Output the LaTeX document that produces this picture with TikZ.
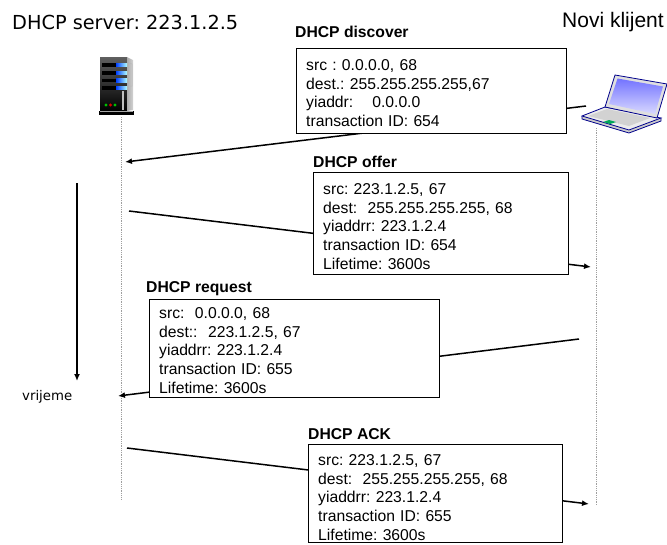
\documentclass[tikz,border=0pt]{standalone}
\usepackage{fontspec}
\setmainfont{Liberation Sans}
\newfontfamily\comicfont{DejaVu Sans}
\usetikzlibrary{arrows.meta}
\begin{document}
\frenchspacing
\begin{tikzpicture}[x=1pt,y=-1pt,
  msgline/.style={line width=1.5pt, -{Latex[length=7pt,width=6pt]}},
  msgbox/.style={draw, line width=0.9pt, fill=white, inner sep=0pt, anchor=north west},
  msgtext/.style={anchor=base west, inner sep=0pt, text width=245pt, align=left,
     font=\fontsize{15.7}{18.7}\selectfont\frenchspacing},
  msglabel/.style={anchor=base west, inner sep=0pt, font=\fontsize{15.7}{18}\selectfont\bfseries},
  lifeline/.style={gray!75, line width=0.9pt, dash pattern=on 0.9pt off 0.9pt},
  ledg/.style={fill=green!75!black},
  ledr/.style={fill=red!85!black}]
\useasboundingbox (0,0) rectangle (667,544);

% titles
\node[anchor=base west, inner sep=0pt] (title) at (12,29.5)
  {\comicfont\fontsize{19.3}{22}\selectfont DHCP server: 223.1.2.5};
\node[anchor=base west, inner sep=0pt] (client) at (562,27)
  {\fontsize{21}{24}\selectfont Novi klijent};

% lifelines
\coordinate (srvtop) at (121,117);
\coordinate (srvbot) at (121,500);
\coordinate (clitop) at (596,128);
\coordinate (clibot) at (596,505);
\draw[lifeline] (srvtop) -- (srvbot);
\draw[lifeline] (clitop) -- (clibot);

% time arrow
\coordinate (tstart) at (77,183);
\coordinate (tend) at (77,381);
\draw[msgline] (tstart) -- (tend);
\node[anchor=base west, inner sep=0pt] (vrijeme) at (22,400)
  {\comicfont\fontsize{13.3}{15}\selectfont vrijeme};

% server icon
\shade[top color=gray!75!black, bottom color=black] (100,57) rectangle (127,111);
\shade[left color=gray!65, right color=gray!35] (127,57) -- (133,60) -- (133,110) -- (127,111) -- cycle;
\draw[gray!55, line width=0.5pt] (129,63) -- (132,64) -- (132,86) -- (129,86) -- cycle;
\foreach \yy in {65,73,80.5,88}{
  \fill[black] (102,\yy-1.6) rectangle (127,\yy+1.6);
  \shade[left color=blue!75!cyan, right color=cyan!30!white] (116,\yy-1.6) rectangle (127,\yy+1.6);
}
\fill[gray!50] (122,91) rectangle (123.6,110);
\fill[ledg] (106,105) circle (1.7);
\fill[ledr] (110.5,105) circle (1.7);
\fill[ledg] (115,105) circle (1.7);
\fill[black] (99,111) rectangle (134,115);
\draw[gray!70, line width=0.5pt] (100,111.5) -- (133,111.5);

% laptop icon
\fill[gray!40] (582,116) -- (582,119) -- (629,133) -- (661,121) -- (661,118) -- (629,130) -- cycle;
\draw[blue!55!black, line width=0.8pt] (582,116) -- (582,119) -- (629,133) -- (661,121) -- (661,118);
\fill[gray!15] (582,116) -- (605,107) -- (661,118) -- (629,130) -- cycle;
\draw[blue!55!black, line width=0.8pt] (582,116) -- (605,107) -- (661,118) -- (629,130) -- cycle;
\fill[gray!35] (588,116) -- (607,109) -- (650,118) -- (629,126) -- cycle;
\fill[teal!70!green] (603,122) -- (609,120) -- (616,122) -- (610,124) -- cycle;
\fill[gray!25] (605,107) -- (615,75) -- (667,84) -- (657,118) -- cycle;
\draw[blue!55!black, line width=0.8pt] (605,107) -- (615,75) -- (667,84) -- (657,118) -- cycle;
\shade[top color=blue!55, bottom color=blue!15!white] (609,104) -- (617.5,78.5) -- (663,86.5) -- (655,114) -- cycle;

% message lines
\coordinate (d1) at (586,106);
\coordinate (d2) at (125,162);
\draw[msgline] (d1) -- (d2);
\coordinate (o1) at (129,211);
\coordinate (o2) at (591,267);
\draw[msgline] (o1) -- (o2);
\coordinate (r1) at (579,339);
\coordinate (r2) at (118,396);
\draw[msgline] (r1) -- (r2);
\coordinate (a1) at (127,448);
\coordinate (a2) at (589,504);
\draw[msgline] (a1) -- (a2);

% DHCP discover
\node[msglabel] (disclab) at (295,37) {DHCP discover};
\node[msgbox, minimum width=270pt, minimum height=85pt] (discbox) at (296,48) {};
\node[msgtext] (disctxt) at (306,70.5)
  {src : 0.0.0.0, 68\\dest.: 255.255.255.255,67\\yiaddr:\hspace{19pt}0.0.0.0\\transaction ID: 654};

% DHCP offer
\node[msglabel] (offlab) at (313,167) {DHCP offer};
\node[msgbox, minimum width=255pt, minimum height=102pt] (offbox) at (313,172) {};
\node[msgtext] (offtxt) at (323,194.5)
  {src: 223.1.2.5, 67\\dest:\ \ 255.255.255.255, 68\\yiaddrr: 223.1.2.4\\transaction ID: 654\\Lifetime: 3600s};

% DHCP request
\node[msglabel] (reqlab) at (146,292) {DHCP request};
\node[msgbox, minimum width=290pt, minimum height=98pt] (reqbox) at (149,299) {};
\node[msgtext] (reqtxt) at (159,318.5)
  {src:\ \ 0.0.0.0, 68\\dest::\ \ 223.1.2.5, 67\\yiaddrr: 223.1.2.4\\transaction ID: 655\\Lifetime: 3600s};

% DHCP ACK
\node[msglabel] (acklab) at (308,439) {DHCP ACK};
\node[msgbox, minimum width=254pt, minimum height=98pt] (ackbox) at (308,444) {};
\node[msgtext] (acktxt) at (318,465.5)
  {src: 223.1.2.5, 67\\dest:\ \ 255.255.255.255, 68\\yiaddrr: 223.1.2.4\\transaction ID: 655\\Lifetime: 3600s};
\end{tikzpicture}
\end{document}
